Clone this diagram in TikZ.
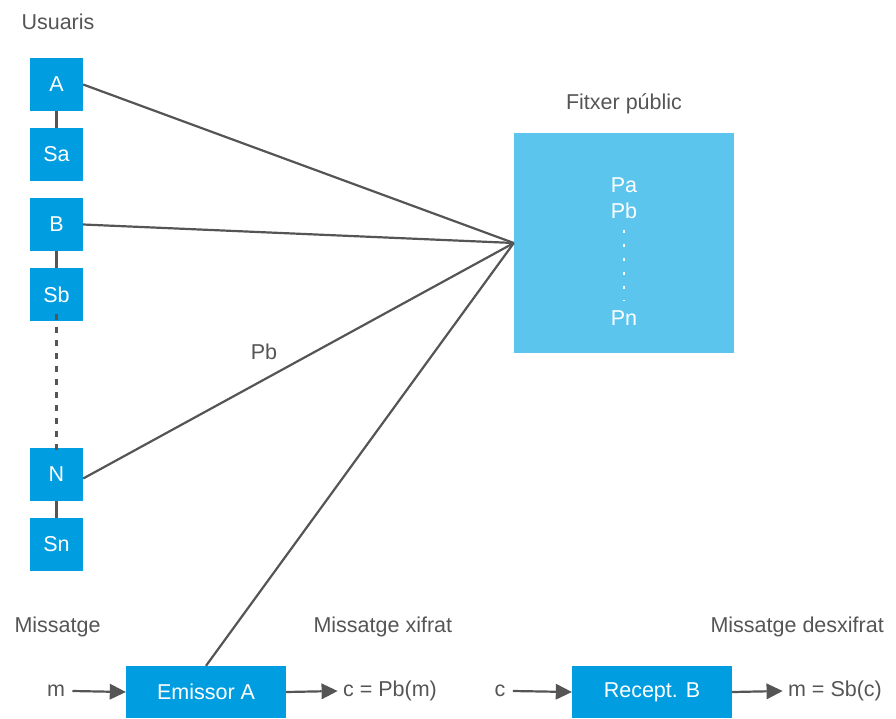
\documentclass[tikz,border=0pt]{standalone}
\usepackage{fontspec}
\setmainfont{Liberation Sans}
\usetikzlibrary{arrows.meta}
\definecolor{boxblue}{RGB}{0,158,224}
\definecolor{lightblue}{RGB}{91,197,238}
\definecolor{txtgray}{RGB}{85,85,85}
\begin{document}
\begin{tikzpicture}[x=1pt,y=-1pt,
  every node/.style={font=\fontsize{21.5}{25}\selectfont, text=txtgray},
  ubox/.style={fill=boxblue, draw=none, minimum width=53pt, minimum height=53pt, inner sep=0pt, text=white},
  wbox/.style={fill=boxblue, draw=none, minimum width=160pt, minimum height=52pt, inner sep=0pt, text=white},
  conn/.style={draw=txtgray, line width=2.2pt},
  arr/.style={draw=txtgray, fill=txtgray, line width=2.2pt, -{Triangle[length=16pt,width=16pt,line width=0pt]}}
]
\useasboundingbox (0,0) rectangle (896,718);
\node[anchor=west] (usuaris) at (18,22) {Usuaris};
\node[ubox] (A) at (56.5,84.5) {A};
\node[ubox] (Sa) at (56.5,154.5) {Sa};
\node[ubox] (B) at (56.5,224.5) {B};
\node[ubox] (Sb) at (56.5,294.5) {Sb};
\node[ubox] (N) at (56.5,474.5) {N};
\node[ubox] (Sn) at (56.5,544.5) {Sn};
\draw[conn] (A) -- (Sa);
\draw[conn] (B) -- (Sb);
\draw[conn] (N) -- (Sn);
\draw[conn, dash pattern=on 6pt off 7pt] ([yshift=7pt]Sb.south) -- ([yshift=-4pt]N.north);

\node (ftitle) at (624,104) {Fitxer públic};
\node[fill=lightblue, minimum width=220pt, minimum height=220pt, inner sep=0pt] (F) at (624,243) {};
\node[text=white] (Pa) at (624,185) {Pa};
\node[text=white] (Pb) at (624,211) {Pb};
\node[text=white] (Pn) at (624,318) {Pn};
\draw[white, line width=2.2pt, dash pattern=on 3pt off 11pt] ([yshift=-8pt]Pb.south) -- ([yshift=6pt]Pn.north);

\node[wbox] (E) at (206,692) {Emissor A};
\node[wbox] (R) at (652,692) {Recept. B};

\draw[conn] (A.east) -- (F.west);
\draw[conn] (B.east) -- (F.west);
\draw[conn] ([yshift=-4pt]N.east) -- (F.west);
\draw[conn] (E.north) -- (F.west);
\node (pblabel) at (264,352) {Pb};

\node[anchor=west] (lm) at (11,627) {Missatge};
\node[anchor=west] (lmx) at (310,627) {Missatge xifrat};
\node[anchor=west] (lmd) at (707,627) {Missatge desxifrat};

\node (m) at (56,691) {m};
\node (cout) at (390,691) {c = Pb(m)};
\node (c) at (500,691) {c};
\node (mout) at (835,691) {m = Sb(c)};
\draw[arr] ([xshift=4pt]m.east) -- (E.west);
\draw[arr] (E.east) -- ([xshift=-2pt]cout.west);
\draw[arr] ([xshift=4pt]c.east) -- (R.west);
\draw[arr] (R.east) -- ([xshift=-2pt]mout.west);
\end{tikzpicture}
\end{document}
